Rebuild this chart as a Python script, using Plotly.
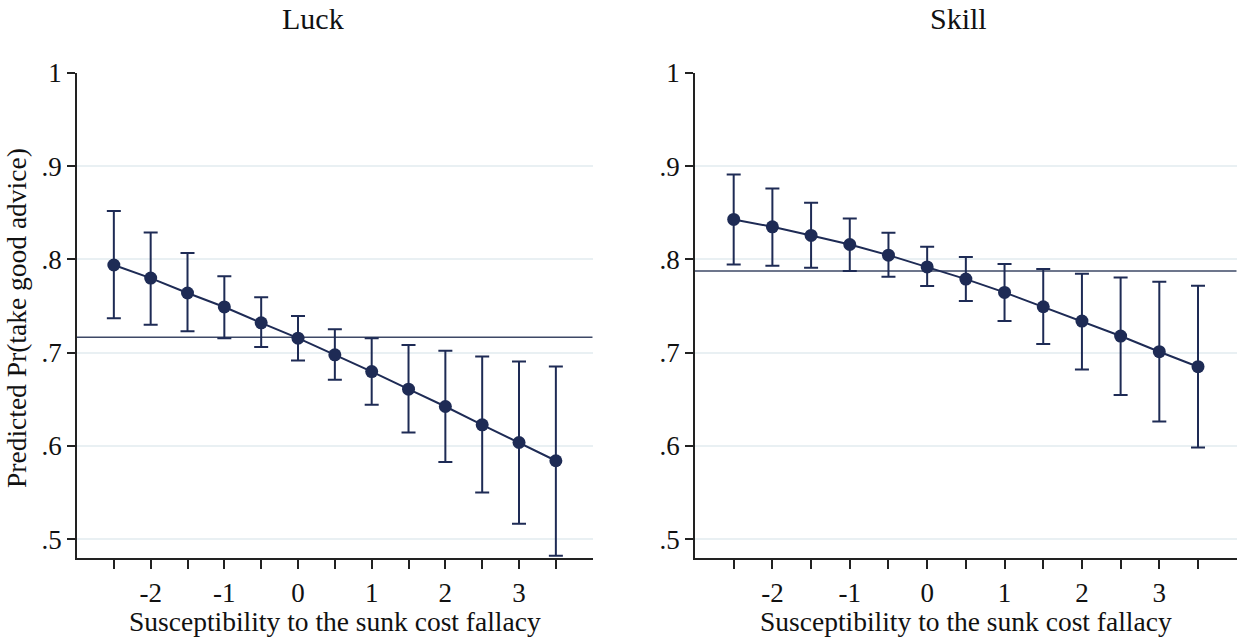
import plotly.graph_objects as go

x_vals = [-2.5, -2, -1.5, -1, -0.5, 0, 0.5, 1, 1.5, 2, 2.5, 3, 3.5]

luck_est = [0.794, 0.780, 0.764, 0.749, 0.732, 0.7155, 0.6976, 0.6797, 0.6608, 0.6422, 0.6226, 0.6036, 0.584]
luck_hi = [0.852, 0.829, 0.807, 0.782, 0.7595, 0.7394, 0.725, 0.7155, 0.7083, 0.7019, 0.6958, 0.6904, 0.685]
luck_lo = [0.737, 0.730, 0.723, 0.7155, 0.706, 0.6915, 0.6708, 0.644, 0.6143, 0.5826, 0.550, 0.5164, 0.482]
luck_ref = 0.7165

skill_est = [0.8429, 0.835, 0.8257, 0.816, 0.8046, 0.792, 0.7789, 0.7646, 0.7492, 0.7339, 0.7178, 0.701, 0.6849]
skill_hi = [0.891, 0.876, 0.8607, 0.844, 0.8285, 0.8135, 0.8025, 0.795, 0.7896, 0.7846, 0.7807, 0.776, 0.7717]
skill_lo = [0.7946, 0.7931, 0.791, 0.7875, 0.7814, 0.7714, 0.7553, 0.7339, 0.7092, 0.6818, 0.6545, 0.6262, 0.5982]
skill_ref = 0.7876

x_tick_vals = [-2.5, -2, -1.5, -1, -0.5, 0, 0.5, 1, 1.5, 2, 2.5, 3, 3.5]
x_tick_text = ["", "-2", "", "-1", "", "0", "", "1", "", "2", "", "3", ""]
y_tick_vals = [0.5, 0.6, 0.7, 0.8, 0.9, 1.0]
y_tick_text = [".5", ".6", ".7", ".8", ".9", "1"]

panel_titles = ["Luck", "Skill"]
x_title = "Susceptibility to the sunk cost fallacy"
y_title = "Predicted Pr(take good advice)"

NAVY = "#1e2b55"
REF = "#3d4866"
GRID = "#e9f0f3"
FONT = "Liberation Serif"
TXT = "#111111"

W, H = 1239, 641
fig = go.Figure()

panels = [
    (luck_est, luck_hi, luck_lo, luck_ref, "x", "y"),
    (skill_est, skill_hi, skill_lo, skill_ref, "x2", "y2"),
]
for est, hi, lo, ref, xa, ya in panels:
    fig.add_trace(go.Scatter(
        x=[-3, 4], y=[ref, ref], mode="lines",
        line=dict(color=REF, width=1.5), xaxis=xa, yaxis=ya,
        showlegend=False, hoverinfo="skip"))
    fig.add_trace(go.Scatter(
        x=x_vals, y=est, mode="lines+markers",
        line=dict(color=NAVY, width=2),
        marker=dict(color=NAVY, size=13),
        error_y=dict(type="data", symmetric=False,
                     array=[h - e for h, e in zip(hi, est)],
                     arrayminus=[e - l for e, l in zip(est, lo)],
                     color=NAVY, thickness=2, width=7),
        xaxis=xa, yaxis=ya, showlegend=False))

def px_x(p):
    return p / W

def px_y(p):
    return 1 - p / H

y_bottom = px_y(557.7)
y_top = px_y(73)

axis_common = dict(
    showline=True, linecolor="#222222", linewidth=1.5,
    ticks="outside", tickcolor="#222222", tickwidth=1.5,
    tickfont=dict(family=FONT, size=27, color=TXT),
    zeroline=False, automargin=False,
)

fig.update_layout(
    template="none",
    width=W, height=H,
    margin=dict(l=0, r=0, t=0, b=0, pad=0),
    paper_bgcolor="white", plot_bgcolor="white",
    font=dict(family=FONT, color=TXT),
    xaxis=dict(domain=[px_x(77), px_x(592.7)], range=[-3, 4],
               tickvals=x_tick_vals, ticktext=x_tick_text, ticklen=10,
               showgrid=False, anchor="y", **axis_common),
    yaxis=dict(domain=[y_bottom, y_top], range=[0.48, 1.0],
               tickvals=y_tick_vals, ticktext=y_tick_text, ticklen=8,
               showgrid=True, gridcolor=GRID, gridwidth=1.5, anchor="x",
               **axis_common),
    xaxis2=dict(domain=[px_x(695), px_x(1236.7)], range=[-3, 4],
                tickvals=x_tick_vals, ticktext=x_tick_text, ticklen=10,
                showgrid=False, anchor="y2", **axis_common),
    yaxis2=dict(domain=[y_bottom, y_top], range=[0.48, 1.0],
                tickvals=y_tick_vals, ticktext=y_tick_text, ticklen=8,
                showgrid=True, gridcolor=GRID, gridwidth=1.5, anchor="x2",
                **axis_common),
)

annotations = [
    dict(text=panel_titles[0], x=px_x(313), y=px_y(18), xref="paper", yref="paper",
         showarrow=False, font=dict(family=FONT, size=30, color=TXT),
         xanchor="center", yanchor="middle"),
    dict(text=panel_titles[1], x=px_x(958), y=px_y(18), xref="paper", yref="paper",
         showarrow=False, font=dict(family=FONT, size=30, color=TXT),
         xanchor="center", yanchor="middle"),
    dict(text=x_title, x=px_x(335), y=px_y(621), xref="paper", yref="paper",
         showarrow=False, font=dict(family=FONT, size=27.5, color=TXT),
         xanchor="center", yanchor="middle"),
    dict(text=x_title, x=px_x(966), y=px_y(621), xref="paper", yref="paper",
         showarrow=False, font=dict(family=FONT, size=27.5, color=TXT),
         xanchor="center", yanchor="middle"),
    dict(text=y_title, x=px_x(16), y=px_y(318), xref="paper", yref="paper",
         showarrow=False, textangle=-90, font=dict(family=FONT, size=27.5, color=TXT),
         xanchor="center", yanchor="middle"),
]
fig.update_layout(annotations=annotations)

fig.write_html("out.html")
